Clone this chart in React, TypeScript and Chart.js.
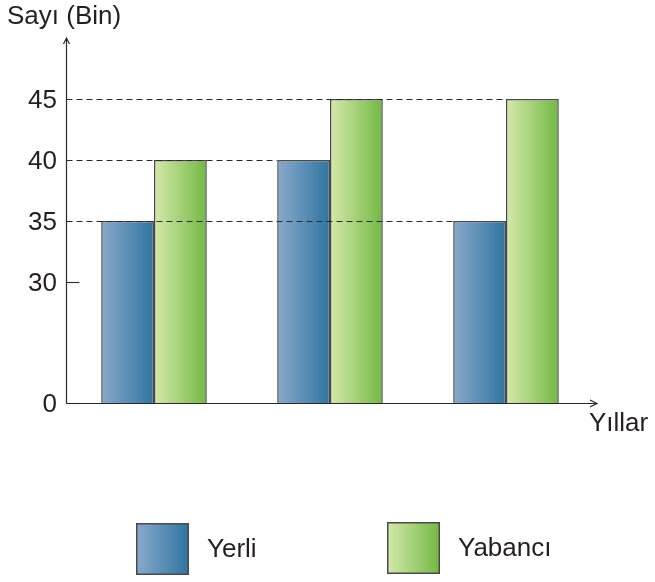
import React, { useEffect, useRef } from 'react';
import { Chart, registerables } from 'chart.js';

Chart.register(...registerables);

// ---- data ----
const categories = ['1. Yıl', '2. Yıl', '3. Yıl'];
const yerliValues = [35, 40, 35];
const yabanciValues = [40, 45, 45];
const yTickValues = [0, 30, 35, 40, 45];
const seriesNames = ['Yerli', 'Yabancı'];
const yAxisTitle = 'Sayı (Bin)';
const xAxisTitle = 'Yıllar';

// broken axis: 0..30 compressed to 0..10 display units, above 30 linear
const BREAK = 30;
const BREAK_DISPLAY = 10;
const toDisplay = (v: number) => (v <= BREAK ? (v * BREAK_DISPLAY) / BREAK : v - BREAK + BREAK_DISPLAY);

const FONT = '26px "Liberation Sans", Arial, sans-serif';
const TEXT = '#231f20';
const LINE = '#2a2a2a';
const BORDER = '#4a4a4a';
const gradientStops: string[][] = [
  ['#8aaacb', '#2e74a1'],
  ['#d6e9ab', '#72b843'],
];

function makeGradient(ctx: CanvasRenderingContext2D, x0: number, x1: number, stops: string[]) {
  const g = ctx.createLinearGradient(x0, 0, x1, 0);
  g.addColorStop(0, stops[0]);
  g.addColorStop(1, stops[1]);
  return g;
}

const decorPlugin = {
  id: 'decor',
  beforeDatasetsDraw(chart: any) {
    const ctx = chart.ctx;
    chart.data.datasets.forEach((_ds: any, di: number) => {
      const meta = chart.getDatasetMeta(di);
      meta.data.forEach((el: any) => {
        const { x, width } = el.getProps(['x', 'width'], true);
        const g = makeGradient(ctx, x - width / 2, x + width / 2, gradientStops[di]);
        el.options = Object.assign({}, el.options, { backgroundColor: g });
      });
    });
  },
  afterDatasetsDraw(chart: any) {
    const ctx: CanvasRenderingContext2D = chart.ctx;
    const area = chart.chartArea;
    const yScale = chart.scales.y;
    const left = area.left;
    const bottom = yScale.getPixelForValue(0);
    const ax = Math.round(left) + 0.5;
    const ay = Math.round(bottom) - 0.5;

    ctx.save();
    // reference lines / ticks
    yTickValues.forEach((v) => {
      const y = v === 0 ? ay : Math.round(yScale.getPixelForValue(toDisplay(v))) + 0.5;
      let endX: number | null = null;
      let bestX = -Infinity;
      chart.data.datasets.forEach((_ds: any, di: number) => {
        const meta = chart.getDatasetMeta(di);
        const raw = di === 0 ? yerliValues : yabanciValues;
        raw.forEach((val, i) => {
          if (val === v) {
            const el = meta.data[i];
            const { x, width } = el.getProps(['x', 'width'], true);
            if (x > bestX) {
              bestX = x;
              endX = x - width / 2;
            }
          }
        });
      });
      ctx.beginPath();
      ctx.strokeStyle = LINE;
      ctx.lineWidth = 1.1;
      if (endX !== null && v > 0) {
        ctx.setLineDash([6, 4]);
        ctx.moveTo(ax, y);
        ctx.lineTo(endX, y);
      } else {
        ctx.setLineDash([]);
        ctx.moveTo(ax, y);
        ctx.lineTo(ax + 13, y);
      }
      ctx.stroke();
      ctx.setLineDash([]);

      // tick label
      ctx.fillStyle = TEXT;
      ctx.font = FONT;
      ctx.textAlign = 'right';
      ctx.textBaseline = 'middle';
      ctx.fillText(String(v), left - 9, y + 1);
    });

    // axes
    ctx.strokeStyle = LINE;
    ctx.lineWidth = 1.2;
    const topY = area.top;
    const rightX = area.right + 3;
    ctx.beginPath();
    ctx.moveTo(ax, ay);
    ctx.lineTo(ax, topY);
    ctx.moveTo(ax - 3, topY + 6);
    ctx.lineTo(ax, topY);
    ctx.lineTo(ax + 3, topY + 6);
    ctx.moveTo(ax, ay);
    ctx.lineTo(rightX, ay);
    ctx.moveTo(rightX - 7, ay - 3.5);
    ctx.lineTo(rightX, ay);
    ctx.lineTo(rightX - 7, ay + 3.5);
    ctx.stroke();

    // axis titles
    ctx.fillStyle = TEXT;
    ctx.font = FONT;
    ctx.textAlign = 'left';
    ctx.textBaseline = 'alphabetic';
    ctx.fillText(yAxisTitle, 7, 24);
    ctx.fillText(xAxisTitle, 589, 431);

    // legend
    const legendBoxes = [
      { x: 136, y: 523 },
      { x: 387, y: 522 },
    ];
    seriesNames.forEach((name, i) => {
      const b = legendBoxes[i];
      const w = 53;
      const h = 52;
      ctx.fillStyle = makeGradient(ctx, b.x, b.x + w, gradientStops[i]);
      ctx.fillRect(b.x, b.y, w, h);
      ctx.strokeStyle = BORDER;
      ctx.lineWidth = 1.5;
      ctx.strokeRect(b.x + 0.75, b.y + 0.75, w - 1.5, h - 1.5);
      ctx.fillStyle = TEXT;
      ctx.font = FONT;
      ctx.textAlign = 'left';
      ctx.textBaseline = 'middle';
      ctx.fillText(name, b.x + 71, b.y + h / 2 + 1);
    });
    ctx.restore();
  },
};

export default function App() {
  const canvasRef = useRef<HTMLCanvasElement | null>(null);

  useEffect(() => {
    if (!canvasRef.current) return;
    const chart = new Chart(canvasRef.current, {
      type: 'bar',
      data: {
        labels: categories,
        datasets: [
          {
            label: seriesNames[0],
            data: yerliValues.map(toDisplay),
            backgroundColor: () => gradientStops[0][1],
            borderColor: BORDER,
            borderWidth: 1.5,
            borderSkipped: 'bottom',
          },
          {
            label: seriesNames[1],
            data: yabanciValues.map(toDisplay),
            backgroundColor: () => gradientStops[1][1],
            borderColor: BORDER,
            borderWidth: 1.5,
            borderSkipped: 'bottom',
          },
        ],
      },
      options: {
        responsive: false,
        animation: false,
        events: [],
        layout: { padding: { left: 66, right: 61, top: 38, bottom: 178 } },
        datasets: { bar: { categoryPercentage: 0.6, barPercentage: 1 } },
        plugins: { legend: { display: false }, tooltip: { enabled: false } },
        scales: {
          x: { display: false, offset: true },
          y: { display: false, min: 0, max: 30 },
        },
      } as any,
      plugins: [decorPlugin],
    });
    return () => chart.destroy();
  }, []);

  return (
    <div style={{ position: 'absolute', left: 0, top: 0, width: 655, height: 582, background: '#fff' }}>
      <canvas ref={canvasRef} width={655} height={582} style={{ display: 'block' }} />
    </div>
  );
}
